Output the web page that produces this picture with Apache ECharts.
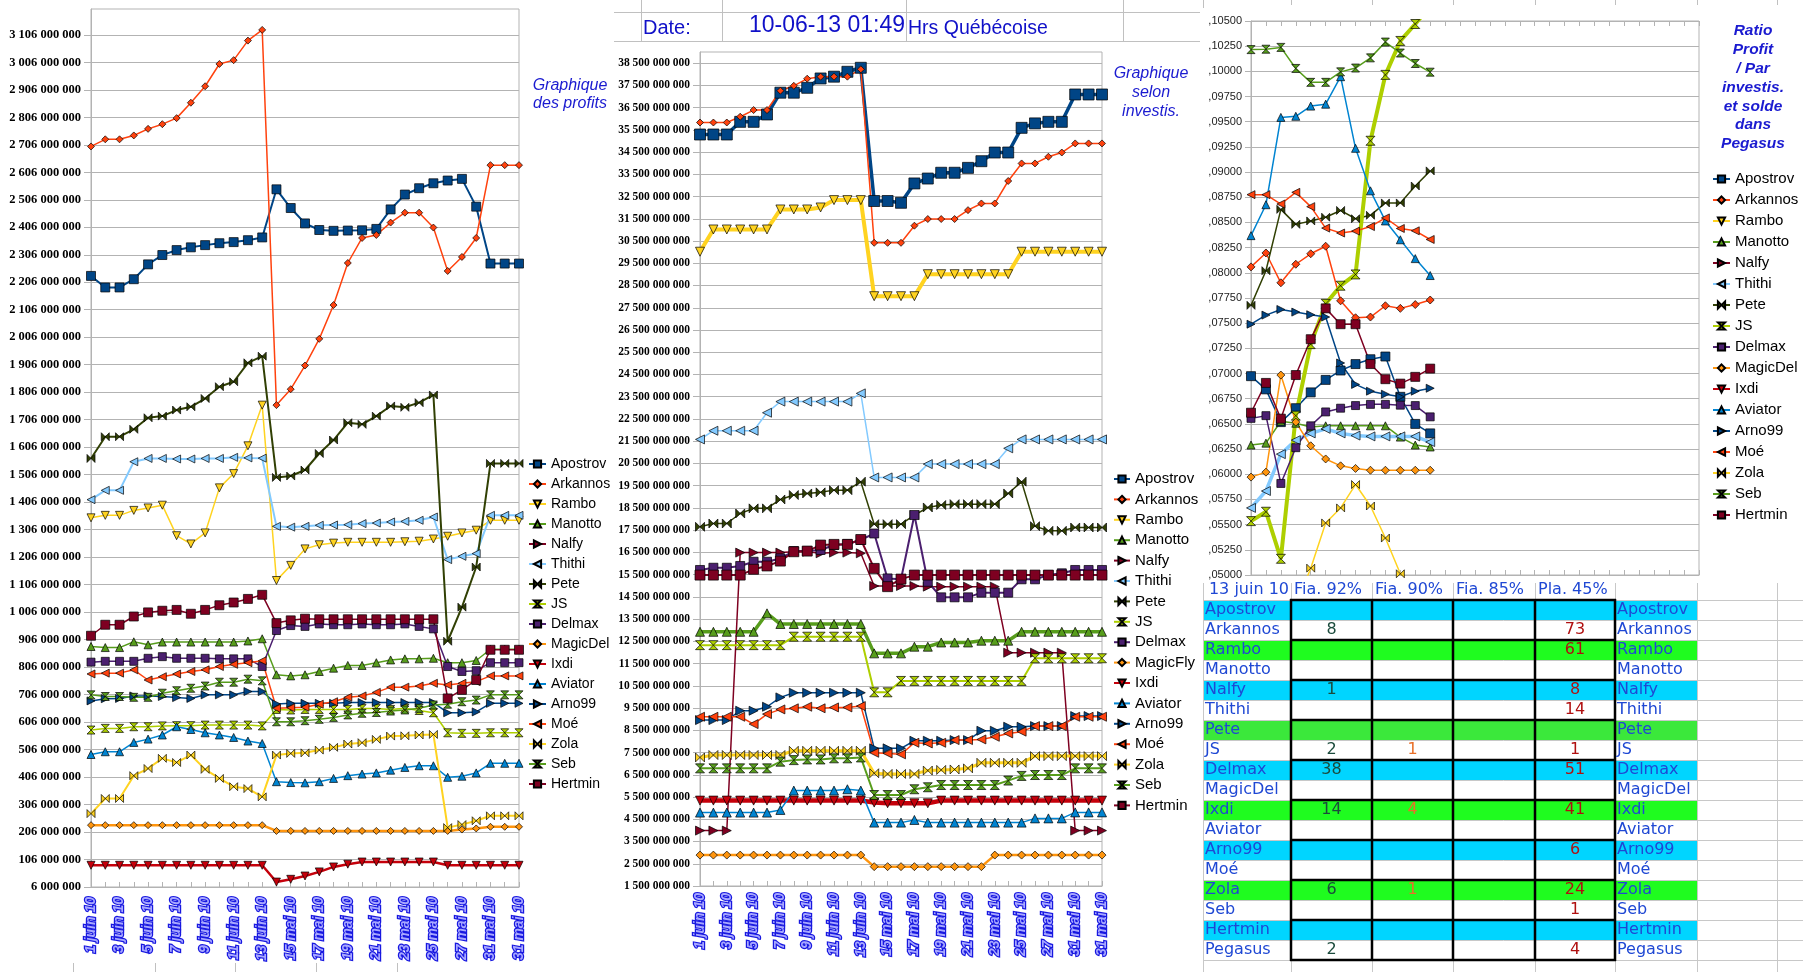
<!DOCTYPE html>
<html><head><meta charset="utf-8">
<script src="https://cdn.jsdelivr.net/npm/echarts@6/dist/echarts.min.js"></script>
<style>html,body{margin:0;padding:0;background:#fff}#c{width:1803px;height:972px}</style>
</head><body><div id="c"></div>
<script>
// ---------------- DATA ----------------
const names1 = ['Apostrov','Arkannos','Rambo','Manotto','Nalfy','Thithi','Pete','JS','Delmax','MagicDel','Ixdi','Aviator','Arno99','Moé','Zola','Seb','Hertmin'];
const names2 = ['Apostrov','Arkannos','Rambo','Manotto','Nalfy','Thithi','Pete','JS','Delmax','MagicFly','Ixdi','Aviator','Arno99','Moé','Zola','Seb','Hertmin'];
const dateLabels = ['1 juin 10','2 juin 10','3 juin 10','4 juin 10','5 juin 10','6 juin 10','7 juin 10','8 juin 10','9 juin 10','10 juin 10','11 juin 10','12 juin 10','13 juin 10',
  '14 mai 10','15 mai 10','16 mai 10','17 mai 10','18 mai 10','19 mai 10','20 mai 10','21 mai 10','22 mai 10','23 mai 10','24 mai 10','25 mai 10','26 mai 10','27 mai 10','28 mai 10','31 mai 10','31 mai 10','31 mai 10'];

// Chart 1 : profits (millions)
const profitTicksM = [6,106,206,306,406,506,606,706,806,906,1006,1106,1206,1306,1406,1506,1606,1706,1806,1906,2006,2106,2206,2306,2406,2506,2606,2706,2806,2906,3006,3106];
const apostrovP = [2229,2187,2187,2217,2271,2305,2323,2333,2341,2348,2352,2359,2369,2544,2476,2420,2396,2393,2394,2395,2400,2471,2525,2548,2566,2576,2582,2481,2274,2274,2274];
const arkannosP = [2700,2726,2726,2740,2764,2781,2803,2859,2919,3000,3014,3085,3124,1759,1817,1903,2000,2123,2276,2367,2378,2423,2459,2459,2405,2247,2298,2367,2632,2632,2632];
const ramboP = [1349,1358,1358,1376,1385,1395,1284,1254,1294,1458,1510,1611,1759,1121,1176,1236,1251,1257,1260,1260,1260,1260,1262,1264,1272,1282,1294,1304,1340,1340,1340];
const manottoP = [881,877,877,898,887,897,897,897,897,897,897,901,909,778,774,778,790,802,812,812,822,832,836,836,838,822,822,830,871,871,871];
const nalfyP = [];
const thithiP = [1415,1449,1449,1553,1565,1565,1563,1563,1565,1565,1569,1567,1566,1318,1315,1318,1322,1323,1324,1328,1330,1334,1336,1340,1352,1197,1209,1219,1358,1358,1358];
const peteP = [1565,1644,1644,1671,1713,1719,1741,1753,1783,1826,1844,1913,1937,1496,1501,1523,1583,1632,1695,1689,1719,1756,1751,1768,1796,900,1024,1170,1547,1547,1547];
const jsP = [577,583,583,589,589,592,593,593,595,595,595,595,592,652,650,652,652,652,652,655,655,652,656,648,640,567,565,565,567,567,567];
const delmaxP = [824,827,827,827,838,844,838,838,838,836,836,836,808,939,957,954,963,960,960,963,960,960,963,954,945,808,790,793,822,822,822];
const magicP = [231,231,231,231,231,231,231,231,231,231,231,231,231,210,210,210,210,210,210,210,210,210,210,210,210,210,215,219,225,225,225];
const ixdiP = [85,85,85,85,85,85,85,85,85,85,85,85,85,24,34,46,61,79,89,97,97,97,97,97,97,85,85,85,85,85,85];
const aviatorP = [488,498,498,532,544,559,589,579,567,559,550,537,528,389,386,385,389,401,411,417,421,431,441,447,447,405,409,421,456,456,456];
const arnoP = [683,691,692,701,701,699,695,692,705,705,705,717,717,672,674,674,674,674,677,677,677,677,677,677,677,640,640,643,674,674,674];
const moeP = [781,784,784,796,759,771,781,790,796,808,816,822,829,656,658,660,671,680,696,701,714,733,733,737,747,741,747,753,774,774,774];
const zolaP = [273,328,328,411,437,474,459,486,434,401,371,364,334,486,492,494,504,514,526,531,543,555,556,559,561,222,233,247,265,265,265];
const sebP = [705,699,699,696,696,711,720,729,737,751,751,762,756,607,607,611,616,623,632,638,641,646,650,656,668,671,680,686,705,705,705];
const hertminP = [920,960,960,990,1005,1011,1014,1000,1014,1031,1041,1054,1069,966,976,982,980,980,980,980,980,980,980,980,980,692,723,759,869,869,869];

// Chart 2 : investis. (billions)
const investTicksB = [1.5,2.5,3.5,4.5,5.5,6.5,7.5,8.5,9.5,10.5,11.5,12.5,13.5,14.5,15.5,16.5,17.5,18.5,19.5,20.5,21.5,22.5,23.5,24.5,25.5,26.5,27.5,28.5,29.5,30.5,31.5,32.5,33.5,34.5,35.5,36.5,37.5,38.5];
const apostrovI = [35.29,35.29,35.29,35.86,35.86,36.19,37.17,37.17,37.39,37.81,37.89,38.11,38.29,32.30,32.30,32.22,33.09,33.31,33.57,33.57,33.79,34.09,34.48,34.48,35.59,35.79,35.86,35.86,37.09,37.09,37.09];
const arkannosI = [35.83,35.83,35.83,36.09,36.39,36.39,37.26,37.48,37.80,37.89,37.89,37.89,38.22,30.42,30.42,30.42,31.19,31.49,31.49,31.49,31.89,32.19,32.19,33.20,33.99,33.99,34.29,34.48,34.89,34.89,34.89];
const ramboI = [30.02,31.02,31.02,31.02,31.02,31.02,31.92,31.92,31.92,32.01,32.34,32.34,32.34,28.02,28.02,28.02,28.02,29.01,29.01,29.01,29.01,29.01,29.01,29.01,30.02,30.02,30.02,30.02,30.02,30.02,30.02];
const manottoI = [12.93,12.93,12.93,12.93,12.93,13.76,13.28,13.28,13.28,13.28,13.28,13.28,13.28,11.96,11.96,11.96,12.26,12.26,12.45,12.45,12.45,12.53,12.53,12.53,12.93,12.93,12.93,12.93,12.93,12.93,12.93];
const nalfyI = [3.99,3.99,3.99,16.49,16.49,16.49,16.49,16.53,16.53,16.46,16.49,16.49,16.46,14.99,14.99,14.99,14.99,14.96,14.96,14.96,14.96,14.96,14.96,11.99,11.99,11.99,11.99,11.99,3.99,3.99,3.99];
const thithiI = [21.58,21.97,21.97,21.97,21.97,22.78,23.28,23.28,23.28,23.28,23.28,23.28,23.65,19.87,19.87,19.87,19.87,20.47,20.47,20.47,20.47,20.47,20.47,21.18,21.58,21.58,21.58,21.58,21.58,21.58,21.58];
const peteI = [17.65,17.80,17.80,18.25,18.48,18.48,18.88,19.08,19.15,19.20,19.30,19.30,19.68,17.77,17.77,17.77,18.18,18.52,18.63,18.67,18.67,18.67,18.67,19.15,19.68,17.68,17.47,17.47,17.62,17.62,17.62];
const jsI = [12.33,12.33,12.33,12.33,12.33,12.33,12.33,12.71,12.71,12.71,12.71,12.71,12.71,10.21,10.21,10.72,10.72,10.72,10.72,10.72,10.72,10.72,10.72,10.72,10.72,11.74,11.74,11.74,11.74,11.74,11.74];
const delmaxI = [15.71,15.81,15.81,15.89,16.08,16.08,16.23,16.56,16.56,16.61,16.83,16.88,17.06,17.35,15.33,15.29,18.18,15.18,14.48,14.48,14.48,14.69,14.69,14.69,15.29,15.29,15.48,15.56,15.71,15.71,15.71];
const magicI = [2.89,2.89,2.89,2.89,2.89,2.89,2.89,2.89,2.89,2.89,2.89,2.89,2.89,2.37,2.37,2.37,2.37,2.37,2.37,2.37,2.37,2.37,2.89,2.89,2.89,2.89,2.89,2.89,2.89,2.89,2.89];
const ixdiI = [5.34,5.34,5.34,5.34,5.34,5.34,5.34,5.34,5.34,5.34,5.34,5.34,5.34,5.25,5.22,5.22,5.22,5.22,5.34,5.34,5.34,5.34,5.34,5.34,5.34,5.34,5.34,5.34,5.34,5.34,5.34];
const aviatorI = [4.80,4.80,4.80,4.80,4.80,4.80,4.92,5.79,5.79,5.79,5.79,5.85,5.79,4.35,4.35,4.35,4.47,4.35,4.35,4.35,4.35,4.35,4.35,4.35,4.35,4.54,4.54,4.54,4.81,4.81,4.81];
const arnoI = [8.96,8.96,8.96,9.38,9.38,9.56,9.98,10.19,10.19,10.19,10.19,10.19,10.19,7.69,7.69,7.69,8.03,8.03,8.03,8.06,8.06,8.48,8.48,8.66,8.66,8.69,8.69,8.69,9.14,9.14,9.14];
const moeI = [9.11,9.11,9.11,9.11,8.78,9.23,9.44,9.49,9.56,9.49,9.53,9.53,9.59,7.49,7.46,7.42,7.94,7.91,7.94,8.06,8.06,8.09,8.21,8.36,8.44,8.69,8.69,8.69,9.11,9.11,9.11];
const zolaI = [7.28,7.39,7.39,7.39,7.39,7.39,7.39,7.58,7.58,7.58,7.58,7.58,7.58,6.57,6.54,6.54,6.54,6.69,6.72,6.74,6.79,7.04,7.04,7.04,7.04,7.34,7.34,7.34,7.34,7.34,7.34];
const sebI = [6.79,6.79,6.79,6.79,6.79,6.79,7.09,7.16,7.19,7.19,7.24,7.24,7.28,5.59,5.59,5.59,5.85,5.94,6.04,6.04,6.04,6.04,6.04,6.24,6.45,6.49,6.49,6.49,6.79,6.79,6.79];
const hertminI = [15.48,15.48,15.48,15.48,15.74,15.89,16.11,16.53,16.56,16.83,16.86,16.86,17.08,15.78,14.96,15.30,15.48,15.48,15.48,15.48,15.48,15.48,15.48,15.48,15.48,15.48,15.48,15.48,15.48,15.48,15.48];

// Chart 3 : ratio
const apostrovR = [0.06974,0.06843,0.06518,0.06656,0.06813,0.06937,0.07030,0.07094,0.07142,0.07169,0.06769,0.06500,0.06406];
const arkannosR = [0.08059,0.08197,0.07901,0.08085,0.08189,0.08264,0.07722,0.07554,0.07561,0.07673,0.07647,0.07685,0.07730];
const ramboR = [];
const manottoR = [0.06290,0.06309,0.06526,0.06507,0.06470,0.06481,0.06481,0.06481,0.06481,0.06481,0.06369,0.06290,0.06271];
const nalfyR = [];
const thithiR = [0.05666,0.05834,0.06200,0.06339,0.06406,0.06451,0.06406,0.06384,0.06376,0.06376,0.06376,0.06376,0.06320];
const peteR = [0.07677,0.08021,0.08630,0.08481,0.08515,0.08552,0.08619,0.08537,0.08571,0.08694,0.08694,0.08862,0.09012];
const jsR = [0.05535,0.05628,0.05161,0.06582,0.07292,0.07692,0.07872,0.07984,0.09311,0.09965,0.10302,0.10470,0.10650];
const delmaxR = [0.06555,0.06582,0.05909,0.06264,0.06481,0.06619,0.06656,0.06682,0.06694,0.06694,0.06686,0.06682,0.06570];
const magicR = [0.05972,0.06021,0.06985,0.06518,0.06283,0.06152,0.06084,0.06058,0.06040,0.06040,0.06040,0.06040,0.06040];
const ixdiR = [];
const aviatorR = [0.08369,0.08676,0.09543,0.09554,0.09655,0.09674,0.09947,0.09236,0.08814,0.08515,0.08328,0.08141,0.07973];
const arnoR = [0.07490,0.07580,0.07636,0.07610,0.07584,0.07561,0.07105,0.06892,0.06825,0.06795,0.06769,0.06825,0.06854];
const moeR = [0.08776,0.08776,0.08683,0.08799,0.08657,0.08444,0.08395,0.08414,0.08459,0.08545,0.08440,0.08417,0.08331];
const zolaR = [0.0450,0.0450,0.0460,0.04693,0.05068,0.05517,0.05666,0.05898,0.05685,0.05367,0.05012,0.0485,0.0480];
const sebR = [0.10216,0.10220,0.10238,0.10029,0.09891,0.09891,0.09995,0.10033,0.10134,0.10291,0.10182,0.10078,0.09992];
const hertminR = [0.06611,0.06907,0.06552,0.06985,0.07341,0.07647,0.07490,0.07490,0.07094,0.06944,0.06900,0.06967,0.07049];

// Table
const tableHeaders = ['13 juin 10','Fia. 92%','Fia. 90%','Fia. 85%','Pla. 45%'];
const tableNames = ['Apostrov','Arkannos','Rambo','Manotto','Nalfy','Thithi','Pete','JS','Delmax','MagicDel','Ixdi','Aviator','Arno99','Moé','Zola','Seb','Hertmin','Pegasus'];
const fia92 = ['','8','','','1','','','2','38','','14','','','','6','','','2'];
const fia90 = ['','','','','','','','1','','','4','','','','1','','',''];
const fia85 = ['','','','','','','','','','','','','','','','','',''];
const pla45 = ['','73','61','','8','14','','1','51','','41','','6','','24','1','','4'];
const rowKind = ['c','w','g','w','c','w','p','w','c','w','g','w','c','w','g','w','c','w'];

// ---------------- STYLES ----------------
const SYM = {
  sq:'rect', di:'diamond', up:'triangle',
  dn:'path://M0,0L10,0L5,10Z', rt:'path://M0,0L10,5L0,10Z', lt:'path://M10,0L0,5L10,10Z',
  bow:'path://M0,0L10,10L10,0L0,10Z', hg:'path://M0,0L10,0L0,10L10,10Z'
};
const seriesStyle = [
  ['#004586','sq'],['#ff420e','di'],['#ffd320','dn'],['#579d1c','up'],['#7e0021','rt'],['#83caff','lt'],
  ['#314004','bow'],['#aecf00','hg'],['#4b1f6f','sq'],['#ff950e','di'],['#c5000b','dn'],['#0084d1','up'],
  ['#004586','rt'],['#ff420e','lt'],['#ffd320','bow'],['#579d1c','hg'],['#7e0021','sq']
];
const w1 = [2,1.5,1.5,1.5,1.5,2,2,1.5,1.5,2.5,2.5,1.5,1.5,1.5,2,1.5,1.5];
const s1 = [9,7,8,8,8,8,8,8,8,7,8,8,8,8,8,8,9];
const w2 = [3.5,1.5,4,3.5,1.5,1.5,1.5,2,2,2.5,4.5,1.5,1.5,1.5,3,2,2];
const s2 = [11,7,9,9,9,9,9,9,9,8,9,9,9,9,9,9,10];
const w3 = [1.5,1.5,1.5,1.5,1.5,3.5,1.5,4,1.5,1.5,1.5,1.5,1.5,1.5,1.5,1.5,1.5];
const s3 = [9,8,8,8,8,9,8,9,8,8,8,8,8,8,8,8,9];

const data1 = [apostrovP,arkannosP,ramboP,manottoP,nalfyP,thithiP,peteP,jsP,delmaxP,magicP,ixdiP,aviatorP,arnoP,moeP,zolaP,sebP,hertminP];
const data2 = [apostrovI,arkannosI,ramboI,manottoI,nalfyI,thithiI,peteI,jsI,delmaxI,magicI,ixdiI,aviatorI,arnoI,moeI,zolaI,sebI,hertminI];
const data3 = [apostrovR,arkannosR,ramboR,manottoR,nalfyR,thithiR,peteR,jsR,delmaxR,magicR,ixdiR,aviatorR,arnoR,moeR,zolaR,sebR,hertminR];

function spaced(n){ return String(Math.round(n)).replace(/\B(?=(\d{3})+(?!\d))/g,' '); }

function mk(names, data, ax, widths, sizes){
  return names.map((nm,i)=>({
    type:'line', name:nm, xAxisIndex:ax, yAxisIndex:ax, data:data[i],
    symbol:SYM[seriesStyle[i][1]], symbolSize:sizes[i], showAllSymbol:true, clip:true,
    lineStyle:{color:seriesStyle[i][0], width:widths[i]},
    itemStyle:{color:seriesStyle[i][0], borderColor:'#000', borderWidth:0.7},
    emphasis:{disabled:true}, animation:false, connectNulls:false
  }));
}

const GRAY = '#b3b3b3';
const xLabel = {color:'#a8a8ff', textBorderColor:'#1818e0', textBorderWidth:2.4, fontFamily:'Liberation Sans', fontWeight:'bold', fontStyle:'italic', fontSize:14};
const yLabelP = {fontFamily:'Liberation Serif', fontWeight:'bold', fontSize:12.5, color:'#000'};

function catAxis(grid, margin, showLabel, pos){
  return {
    gridIndex:grid, type:'category', data:dateLabels, boundaryGap:false, position:pos||'bottom',
    axisLine:{show:true, lineStyle:{color:GRAY}},
    axisTick:{show:true, inside:true, length:5, interval:0, lineStyle:{color:GRAY}},
    axisLabel: showLabel ? Object.assign({interval:1, rotate:90, margin:margin}, xLabel) : {show:false},
    splitLine:{show:false}
  };
}

// ---------------- GRAPHICS ----------------
const G = [];
const BLUE = '#1a1ad0';
function ln(x1,y1,x2,y2,c,w){ G.push({type:'line', silent:true, shape:{x1,y1,x2,y2}, style:{stroke:c, lineWidth:w||1}}); }
function tx(x,y,t,o){ G.push({type:'text', silent:true, x:x, y:y, style:Object.assign({text:t, fill:BLUE, fontFamily:'Liberation Sans', fontSize:16, textAlign:'left', align:'left', textVerticalAlign:'middle', verticalAlign:'middle'}, o||{})}); }

// Spreadsheet header lines above chart 2
ln(614,12.5,1200,12.5,'#c0c0c0'); ln(614,41.5,1200,41.5,'#c0c0c0');
[641.5,722.5,906.5,1123.5].forEach(x=>ln(x,0,x,41,'#c0c0c0'));
ln(1203.5,0,1203.5,8,'#c0c0c0');
[1291.5,1372.5,1453.5,1535.5,1615.5,1697.5,1777.5].forEach(x=>ln(x,0,x,5,'#c0c0c0'));
[73.5,155.5,235.5,316.5,397.5].forEach(x=>ln(x,963,x,972,'#c0c0c0'));
tx(643,28,'Date:',{fontSize:20, fill:'#1010c8'});
tx(905,26,'10-06-13 01:49',{fontSize:23, fill:'#1010c8', textAlign:'right', align:'right'});
tx(908,29,'Hrs Québécoise',{fontSize:19.5, fill:'#1010c8'});

// Chart titles
tx(570,95,'Graphique\ndes profits',{fontStyle:'italic', fontSize:16, textAlign:'center', align:'center', lineHeight:18});
tx(1151,93,'Graphique\nselon\ninvestis.',{fontStyle:'italic', fontSize:16, textAlign:'center', align:'center', lineHeight:19});
tx(1753,87.5,'Ratio\nProfit\n/ Par\ninvestis.\net solde\ndans\nPegasus',{fontStyle:'italic', fontWeight:'bold', fontSize:15.5, textAlign:'center', align:'center', lineHeight:18.8});

// Table
const FILL = {c:'#00d5ff', g:'#1ffc1f', p:'#3be83b', w:'#ffffff'};
for(let k=0;k<=19;k++){ const y=580+20*k+0.5; if(k>=1) ln(1204,y,1803,y,'#c8c8c8'); }
[1203.5,1291.5,1372.5,1453.5,1535.5,1615.5,1697.5,1777.5].forEach(x=>ln(x,583,x,972,'#c8c8c8'));
tableNames.forEach((nm,r)=>{
  const y0 = 600+20*r;
  G.push({type:'rect', silent:true, shape:{x:1204, y:y0+1, width:493, height:19}, style:{fill:FILL[rowKind[r]]}});
});
for(let k=0;k<=9;k++){ ln(1290,600+40*k,1616,600+40*k,'#000',2.5); }
[1291,1372,1453,1535,1615].forEach(x=>ln(x,599,x,961,'#000',2.5));
const NAMEC = '#1f48d4';
const TF = 'DejaVu Sans';
tx(1289,590,tableHeaders[0],{fontSize:16, fontFamily:TF, fill:NAMEC, textAlign:'right', align:'right'});
[1294,1375,1456,1538].forEach((x,i)=>tx(x,590,tableHeaders[i+1],{fontSize:16, fontFamily:TF, fill:NAMEC}));
tableNames.forEach((nm,r)=>{
  const yc = 610+20*r;
  tx(1205,yc,nm,{fontSize:16, fontFamily:TF, fill:NAMEC});
  tx(1617,yc,nm,{fontSize:16, fontFamily:TF, fill:NAMEC});
  if(fia92[r]) tx(1331.5,yc,fia92[r],{fontSize:16, fontFamily:TF, fill:'#1b4b3c', textAlign:'center', align:'center'});
  if(fia90[r]) tx(1412.5,yc,fia90[r],{fontSize:16, fontFamily:TF, fill:'#e8702a', textAlign:'center', align:'center'});
  if(fia85[r]) tx(1494,yc,fia85[r],{fontSize:16, fontFamily:TF, fill:'#1b4b3c', textAlign:'center', align:'center'});
  if(pla45[r]) tx(1575,yc,pla45[r],{fontSize:16, fontFamily:TF, fill:'#b01010', textAlign:'center', align:'center'});
});

// ---------------- OPTION ----------------
const legendBase = {orient:'vertical', padding:0, selectedMode:false, itemHeight:9,
  textStyle:{fontFamily:'Liberation Sans', color:'#000', lineHeight:16}};

const option = {
  animation:false,
  backgroundColor:'#ffffff',
  grid:[
    {left:91, top:9, width:428, height:878, show:true, borderColor:GRAY, borderWidth:1},
    {left:700, top:52, width:402, height:834, show:true, borderColor:GRAY, borderWidth:1},
    {left:1251, top:21, width:448, height:554, show:true, borderColor:GRAY, borderWidth:1}
  ],
  xAxis:[ catAxis(0,10,true), catAxis(1,7,true), catAxis(2,8,false), catAxis(2,8,false,'top') ],
  yAxis:[
    {gridIndex:0, type:'value', min:6, max:3200,
     axisLine:{show:true, lineStyle:{color:GRAY}},
     axisTick:{show:true, length:7, customValues:profitTicksM, lineStyle:{color:GRAY}},
     axisLabel:Object.assign({customValues:profitTicksM, margin:10, formatter:v=>spaced(v*1e6)}, yLabelP),
     splitLine:{show:true, lineStyle:{color:GRAY}}},
    {gridIndex:1, type:'value', min:1.5, max:39,
     axisLine:{show:true, lineStyle:{color:GRAY}},
     axisTick:{show:true, length:7, customValues:investTicksB, lineStyle:{color:GRAY}},
     axisLabel:Object.assign({customValues:investTicksB, margin:10, formatter:v=>spaced(v*1e9)}, yLabelP, {fontSize:11.5}),
     splitLine:{show:true, lineStyle:{color:GRAY}}},
    {gridIndex:2, type:'value', min:0.05, max:0.105, interval:0.0025,
     axisLine:{show:true, lineStyle:{color:GRAY}},
     axisTick:{show:true, length:6, lineStyle:{color:GRAY}},
     axisLabel:{margin:9, fontFamily:'Liberation Sans', fontSize:11, color:'#222',
       formatter:v=>','+String(Math.round(v*100000)).padStart(5,'0')},
     splitLine:{show:true, lineStyle:{color:GRAY}}}
  ],
  legend:[
    Object.assign({}, legendBase, {left:528, top:456, itemWidth:17, itemGap:4, data:names1, textStyle:Object.assign({}, legendBase.textStyle, {fontSize:14})}),
    Object.assign({}, legendBase, {left:1113, top:471, itemWidth:16, itemGap:4.4, data:names2, textStyle:Object.assign({}, legendBase.textStyle, {fontSize:15})}),
    Object.assign({}, legendBase, {left:1712, top:171, itemWidth:17, itemGap:5, data:names1, textStyle:Object.assign({}, legendBase.textStyle, {fontSize:15})})
  ],
  graphic:{elements:G},
  series:[].concat(mk(names1,data1,0,w1,s1), mk(names2,data2,1,w2,s2), mk(names1,data3,2,w3,s3))
};

const chart = echarts.init(document.getElementById('c'), null, {renderer:'canvas', width:1803, height:972});
chart.setOption(option);
</script>
</body></html>
